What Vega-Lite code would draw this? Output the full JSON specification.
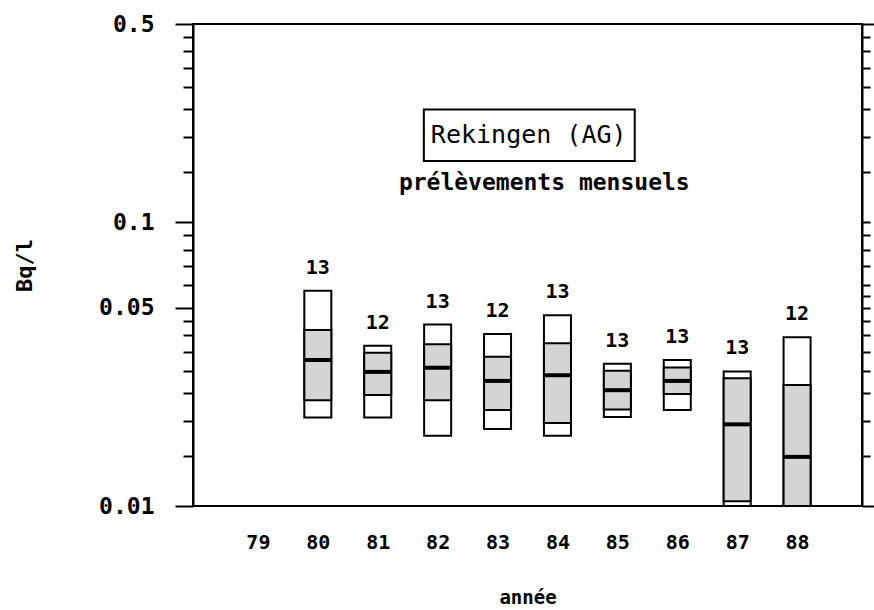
{
  "$schema": "https://vega.github.io/schema/vega-lite/v6.json",
  "width": 669,
  "height": 482,
  "autosize": {"type": "none"},
  "padding": {"left": 193, "top": 24, "right": 12, "bottom": 104},
  "background": "white",
  "config": {
    "view": {"stroke": "black", "strokeWidth": 2},
    "font": "DejaVu Sans Mono"
  },
  "data": {
    "values": [
      {"year": 80, "min": 0.0205, "q1": 0.0236, "med": 0.0327, "q3": 0.0417, "max": 0.0574, "n": 13},
      {"year": 81, "min": 0.0205, "q1": 0.0246, "med": 0.0297, "q3": 0.0347, "max": 0.0367, "n": 12},
      {"year": 82, "min": 0.0177, "q1": 0.0236, "med": 0.0307, "q3": 0.0372, "max": 0.0436, "n": 13},
      {"year": 83, "min": 0.0187, "q1": 0.0218, "med": 0.0276, "q3": 0.0336, "max": 0.0404, "n": 12},
      {"year": 84, "min": 0.0177, "q1": 0.0196, "med": 0.0289, "q3": 0.0375, "max": 0.0470, "n": 13},
      {"year": 85, "min": 0.0206, "q1": 0.0219, "med": 0.0256, "q3": 0.0300, "max": 0.0317, "n": 13},
      {"year": 86, "min": 0.0218, "q1": 0.0248, "med": 0.0276, "q3": 0.0308, "max": 0.0327, "n": 13},
      {"year": 87, "min": 0.0100, "q1": 0.0104, "med": 0.0194, "q3": 0.0282, "max": 0.0298, "n": 13},
      {"year": 88, "min": 0.0100, "q1": 0.0100, "med": 0.0149, "q3": 0.0267, "max": 0.0393, "n": 12}
    ]
  },
  "resolve": {"axis": {"x": "independent", "y": "independent"}},
  "layer": [
    {
      "mark": {"type": "bar", "width": 27, "fill": "white", "stroke": "black", "strokeWidth": 2},
      "encoding": {
        "x": {
          "field": "year", "type": "quantitative",
          "scale": {"domain": [78, 89], "nice": false, "zero": false},
          "axis": {
            "values": [79, 80, 81, 82, 83, 84, 85, 86, 87, 88],
            "format": "d",
            "title": "année",
            "grid": false,
            "ticks": false,
            "domain": false,
            "labelPadding": 26,
            "labelFont": "DejaVu Sans Mono",
            "labelFontWeight": "bold",
            "labelFontSize": 20,
            "labelColor": "black",
            "titleFont": "DejaVu Sans Mono",
            "titleFontWeight": "bold",
            "titleFontSize": 19,
            "titleColor": "black",
            "titlePadding": 36
          }
        },
        "y": {
          "field": "min", "type": "quantitative",
          "scale": {"type": "log", "domain": [0.01, 0.5], "nice": false},
          "axis": {
            "values": [0.01, 0.015, 0.02, 0.025, 0.03, 0.035, 0.04, 0.045, 0.05, 0.06, 0.07, 0.08, 0.09, 0.1, 0.15, 0.2, 0.25, 0.3, 0.35, 0.4, 0.45, 0.5],
            "labelExpr": "(datum.value == 0.01 || datum.value == 0.05 || datum.value == 0.1 || datum.value == 0.5) ? datum.label : ''",
            "format": "~g",
            "title": "Bq/l",
            "grid": false,
            "tickSize": {"condition": {"test": "datum.value == 0.01 || datum.value == 0.05 || datum.value == 0.1 || datum.value == 0.5", "value": 18}, "value": 10},
            "tickWidth": 2,
            "tickColor": "black",
            "domain": true,
            "domainColor": "black",
            "domainWidth": 2,
            "labelPadding": 21,
            "labelFont": "DejaVu Sans Mono",
            "labelFontWeight": "bold",
            "labelFontSize": 23,
            "labelColor": "black",
            "titleFont": "DejaVu Sans Mono",
            "titleFontWeight": "bold",
            "titleFontSize": 22,
            "titleColor": "black",
            "titlePadding": 62
          }
        },
        "y2": {"field": "max"}
      }
    },
    {
      "mark": {"type": "bar", "width": 27, "fill": "#d4d4d4", "stroke": "black", "strokeWidth": 2},
      "encoding": {
        "x": {"field": "year", "type": "quantitative", "axis": null},
        "y": {"field": "q1", "type": "quantitative", "axis": null},
        "y2": {"field": "q3"}
      }
    },
    {
      "mark": {"type": "tick", "orient": "horizontal", "size": 27, "thickness": 4, "color": "black", "opacity": 1},
      "encoding": {
        "x": {"field": "year", "type": "quantitative", "axis": null},
        "y": {
          "field": "med", "type": "quantitative",
          "axis": {
            "orient": "right",
            "values": [0.01, 0.015, 0.02, 0.025, 0.03, 0.035, 0.04, 0.045, 0.05, 0.055, 0.06, 0.07, 0.08, 0.09, 0.1, 0.15, 0.2, 0.25, 0.3, 0.35, 0.4, 0.45, 0.5],
            "labels": false,
            "domain": true,
            "domainColor": "black",
            "domainWidth": 2,
            "grid": false,
            "title": null,
            "tickSize": {"condition": {"test": "datum.value == 0.01 || datum.value == 0.5", "value": 14}, "value": 8},
            "tickWidth": 2,
            "tickColor": "black"
          }
        }
      }
    },
    {
      "mark": {"type": "text", "dy": -23, "fontSize": 20, "fontWeight": "bold", "font": "DejaVu Sans Mono", "color": "black"},
      "encoding": {
        "x": {"field": "year", "type": "quantitative", "axis": null},
        "y": {"field": "max", "type": "quantitative", "axis": null},
        "text": {"field": "n", "type": "quantitative"}
      }
    },
    {
      "data": {"values": [{}]},
      "mark": {"type": "rect", "fill": "white", "stroke": "black", "strokeWidth": 2},
      "encoding": {
        "x": {"datum": 81.77, "type": "quantitative", "axis": null},
        "x2": {"datum": 85.29},
        "y": {"datum": 0.25, "type": "quantitative", "axis": null},
        "y2": {"datum": 0.1644}
      }
    },
    {
      "data": {"values": [{"label": "Rekingen (AG)"}]},
      "mark": {"type": "text", "fontSize": 25, "font": "DejaVu Sans Mono", "color": "black", "baseline": "middle", "align": "center"},
      "encoding": {
        "x": {"datum": 83.52, "type": "quantitative", "axis": null},
        "y": {"datum": 0.2033, "type": "quantitative", "axis": null},
        "text": {"field": "label", "type": "nominal"}
      }
    },
    {
      "data": {"values": [{"label": "prélèvements mensuels"}]},
      "mark": {"type": "text", "fontSize": 23, "fontWeight": "bold", "font": "DejaVu Sans Mono", "color": "black", "baseline": "middle", "align": "center"},
      "encoding": {
        "x": {"datum": 83.78, "type": "quantitative", "axis": null},
        "y": {"datum": 0.1375, "type": "quantitative", "axis": null},
        "text": {"field": "label", "type": "nominal"}
      }
    }
  ]
}
